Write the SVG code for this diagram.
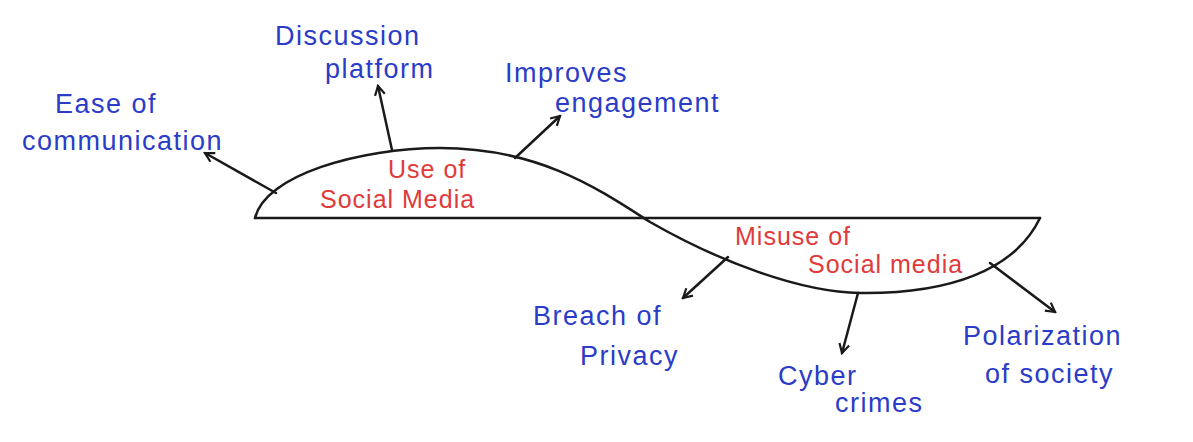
<svg xmlns="http://www.w3.org/2000/svg" width="1193" height="442" viewBox="0 0 1193 442">
<defs>
<style>
.l{stroke:#1a1a1a;stroke-width:2.5;fill:none;stroke-linecap:round}
.b{fill:#2a3cc8;font-family:"Liberation Sans",sans-serif;font-size:27px;letter-spacing:1.5px}
.r{fill:#e03a3a;font-family:"Liberation Sans",sans-serif;font-size:25px;letter-spacing:1px}
</style>
<marker id="a" viewBox="0 0 12 12" refX="10" refY="6" markerWidth="12" markerHeight="12" markerUnits="userSpaceOnUse" orient="auto"><path d="M1,1 L10,6 L1,11" fill="none" stroke="#1a1a1a" stroke-width="2.2"/></marker>
</defs>
<rect width="1193" height="442" fill="#fff"/>
<g id="connectors">
<path class="l" d="M255,218 L1040,218"/>
<path class="l" d="M255,218 C265,175 360,148 440,148 C540,148 600,190 650,222 C720,262 800,292 860,293 C950,294 1015,270 1040,218"/>
<path class="l" d="M276,193 L205,153" marker-end="url(#a)"/>
<path class="l" d="M392,150 L378,86" marker-end="url(#a)"/>
<path class="l" d="M515,158 L560,116" marker-end="url(#a)"/>
<path class="l" d="M728,257 L683,298" marker-end="url(#a)"/>
<path class="l" d="M858,293 L842,353" marker-end="url(#a)"/>
<path class="l" d="M990,263 L1055,312" marker-end="url(#a)"/>
</g>
<g id="use"><text class="r" x="388" y="178">Use of</text><text class="r" x="320" y="208">Social Media</text></g>
<g id="misuse"><text class="r" x="735" y="245">Misuse of</text><text class="r" x="808" y="273">Social media</text></g>
<g id="ease"><text class="b" x="55" y="113">Ease of</text><text class="b" x="22" y="150">communication</text></g>
<g id="discussion"><text class="b" x="275" y="45">Discussion</text><text class="b" x="325" y="78">platform</text></g>
<g id="improves"><text class="b" x="505" y="82">Improves</text><text class="b" x="555" y="112">engagement</text></g>
<g id="breach"><text class="b" x="533" y="325">Breach of</text><text class="b" x="580" y="365">Privacy</text></g>
<g id="cyber"><text class="b" x="778" y="385">Cyber</text><text class="b" x="835" y="412">crimes</text></g>
<g id="polar"><text class="b" x="963" y="345">Polarization</text><text class="b" x="985" y="383">of society</text></g>
</svg>
